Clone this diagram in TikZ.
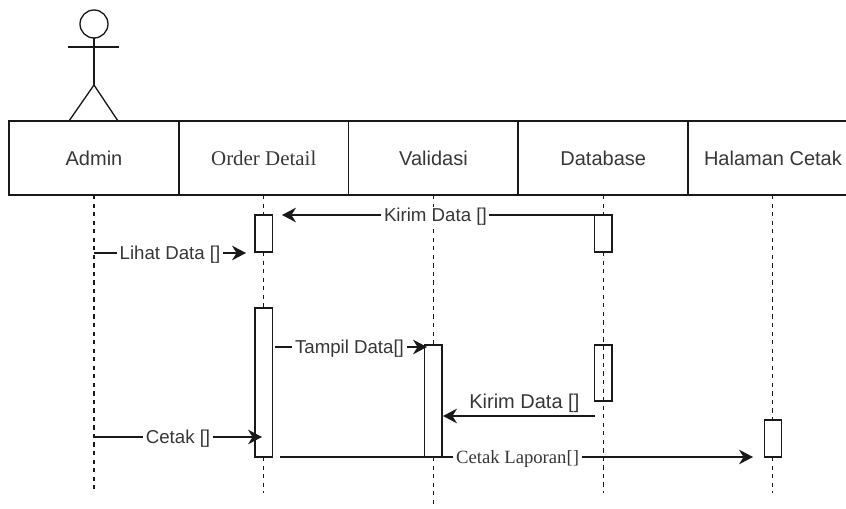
\documentclass[tikz,border=0pt]{standalone}
\usepackage{fontspec}
\setmainfont{Liberation Sans}
\newfontfamily\serifface{Liberation Serif}
\usetikzlibrary{positioning, arrows.meta}
\definecolor{inkdark}{RGB}{25,25,25}
\definecolor{textgray}{RGB}{55,55,55}
\tikzset{
  header/.style={
    draw=inkdark, line width=1pt, outer sep=0pt, inner sep=0pt,
    minimum width=127.3pt, minimum height=55.5pt,
    text=textgray, font=\fontsize{15}{18}\selectfont, align=center
  },
  headerserif/.style={
    header, font=\fontsize{15.7}{18}\serifface
  },
  actbar/.style={
    draw=inkdark, line width=1pt, outer sep=0pt, inner sep=0pt,
    minimum width=13pt, minimum height=#1*0.75pt
  },
  lifeline/.style={draw=inkdark, line width=0.8pt, dash pattern=on 3.2pt off 3.2pt},
  limb/.style={draw=inkdark, line width=1pt},
  msg/.style={-{Stealth[length=10.5pt,width=11pt]}, draw=inkdark, line width=1pt},
  msglabel/.style={
    fill=white, text=textgray, inner xsep=2pt, inner ysep=0.5pt, yshift=-1.2pt,
    font=\fontsize{14}{16}\selectfont
  },
  msgserif/.style={msglabel, font=\fontsize{14}{16}\serifface}
}

\begin{document}
\begin{tikzpicture}[x=0.75pt, y=-0.75pt, node distance=0pt]
  \useasboundingbox (0,0) rectangle (846,509);
  \clip (0,0) rectangle (846,509);

  \node[header] (admin) at (94,158) {Admin};
  \node[headerserif, right=of admin] (order) {Order Detail};
  \node[header, right=of order] (validasi) {Validasi};
  \node[header, right=of validasi] (database) {Database};
  \node[header, right=of database] (halaman) {Halaman Cetak};
  \draw[draw=inkdark, line width=1.6pt] (validasi.north east) -- (validasi.south east);

  \node[circle, limb, minimum size=21pt, inner sep=0pt, outer sep=0pt] (head) at (94,24) {};
  \coordinate (hip) at (94,85);
  \coordinate (armleft) at (68,47);
  \coordinate (armright) at (119,47);
  \coordinate (footleft) at (69,121);
  \coordinate (footright) at (118,121);
  \draw[limb] (head) -- (hip);
  \draw[limb] (armleft) -- (armright);
  \draw[limb] (footleft) -- (hip) -- (footright);

  \node[actbar=37] (orderA) at (order |- 0,233.5) {};
  \node[actbar=149] (orderB) at (order |- 0,382.5) {};
  \node[actbar=112] (validasiA) at (validasi |- 0,401) {};
  \node[actbar=37] (databaseA) at (database |- 0,233.5) {};
  \node[actbar=56] (databaseB) at (database |- 0,373) {};
  \node[actbar=37] (halamanA) at (halaman |- 0,438.5) {};

  \coordinate (adminend) at (admin |- 0,493);
  \coordinate (orderend) at (order |- 0,493);
  \coordinate (validasiend) at (validasi |- 0,508);
  \coordinate (databaseend) at (database |- 0,493);
  \coordinate (halamanend) at (halaman |- 0,493);

  \draw[lifeline] (admin) -- (adminend);
  \draw[lifeline] (order) -- (orderA);
  \draw[lifeline] (orderA) -- (orderB);
  \draw[lifeline] (orderB) -- (orderend);
  \draw[lifeline] (validasi) -- (validasiA);
  \draw[lifeline] (validasiA) -- (validasiend);
  \draw[lifeline] (database) -- (databaseA);
  \draw[lifeline] (databaseA) -- (databaseend);
  \draw[lifeline] (halaman) -- (halamanA);
  \draw[lifeline] (halamanA) -- (halamanend);

  \coordinate (kirimfrom) at (595,215);
  \coordinate (kirimto) at (282,215);
  \coordinate (lihatfrom) at (94,253);
  \coordinate (lihatto) at (246,253);
  \coordinate (tampilfrom) at (275,347);
  \coordinate (tampilto) at (427,347);
  \coordinate (balasfrom) at (595,416);
  \coordinate (balasto) at (443,416);
  \coordinate (cetakfrom) at (94,437);
  \coordinate (cetakto) at (262,437);
  \coordinate (laporanfrom) at (280,457);
  \coordinate (laporanto) at (753,457);

  \draw[msg] (kirimfrom) -- node[msglabel, pos=.51] {Kirim Data []} (kirimto);
  \draw[msg] (lihatfrom) -- node[msglabel] {Lihat Data []} (lihatto);
  \draw[msg] (tampilfrom) -- node[msglabel, pos=.49] {Tampil Data[]} (tampilto);
  \draw[msg] (balasfrom) -- node[msglabel, fill=none, font=\fontsize{15}{18}\selectfont, above=2pt, xshift=4pt, yshift=0.4pt] {Kirim Data []} (balasto);
  \draw[msg] (cetakfrom) -- node[msglabel] {Cetak []} (cetakto);
  \draw[msg] (laporanfrom) -- node[msgserif, xshift=0.8pt] {Cetak Laporan[]} (laporanto);
\end{tikzpicture}
\end{document}
